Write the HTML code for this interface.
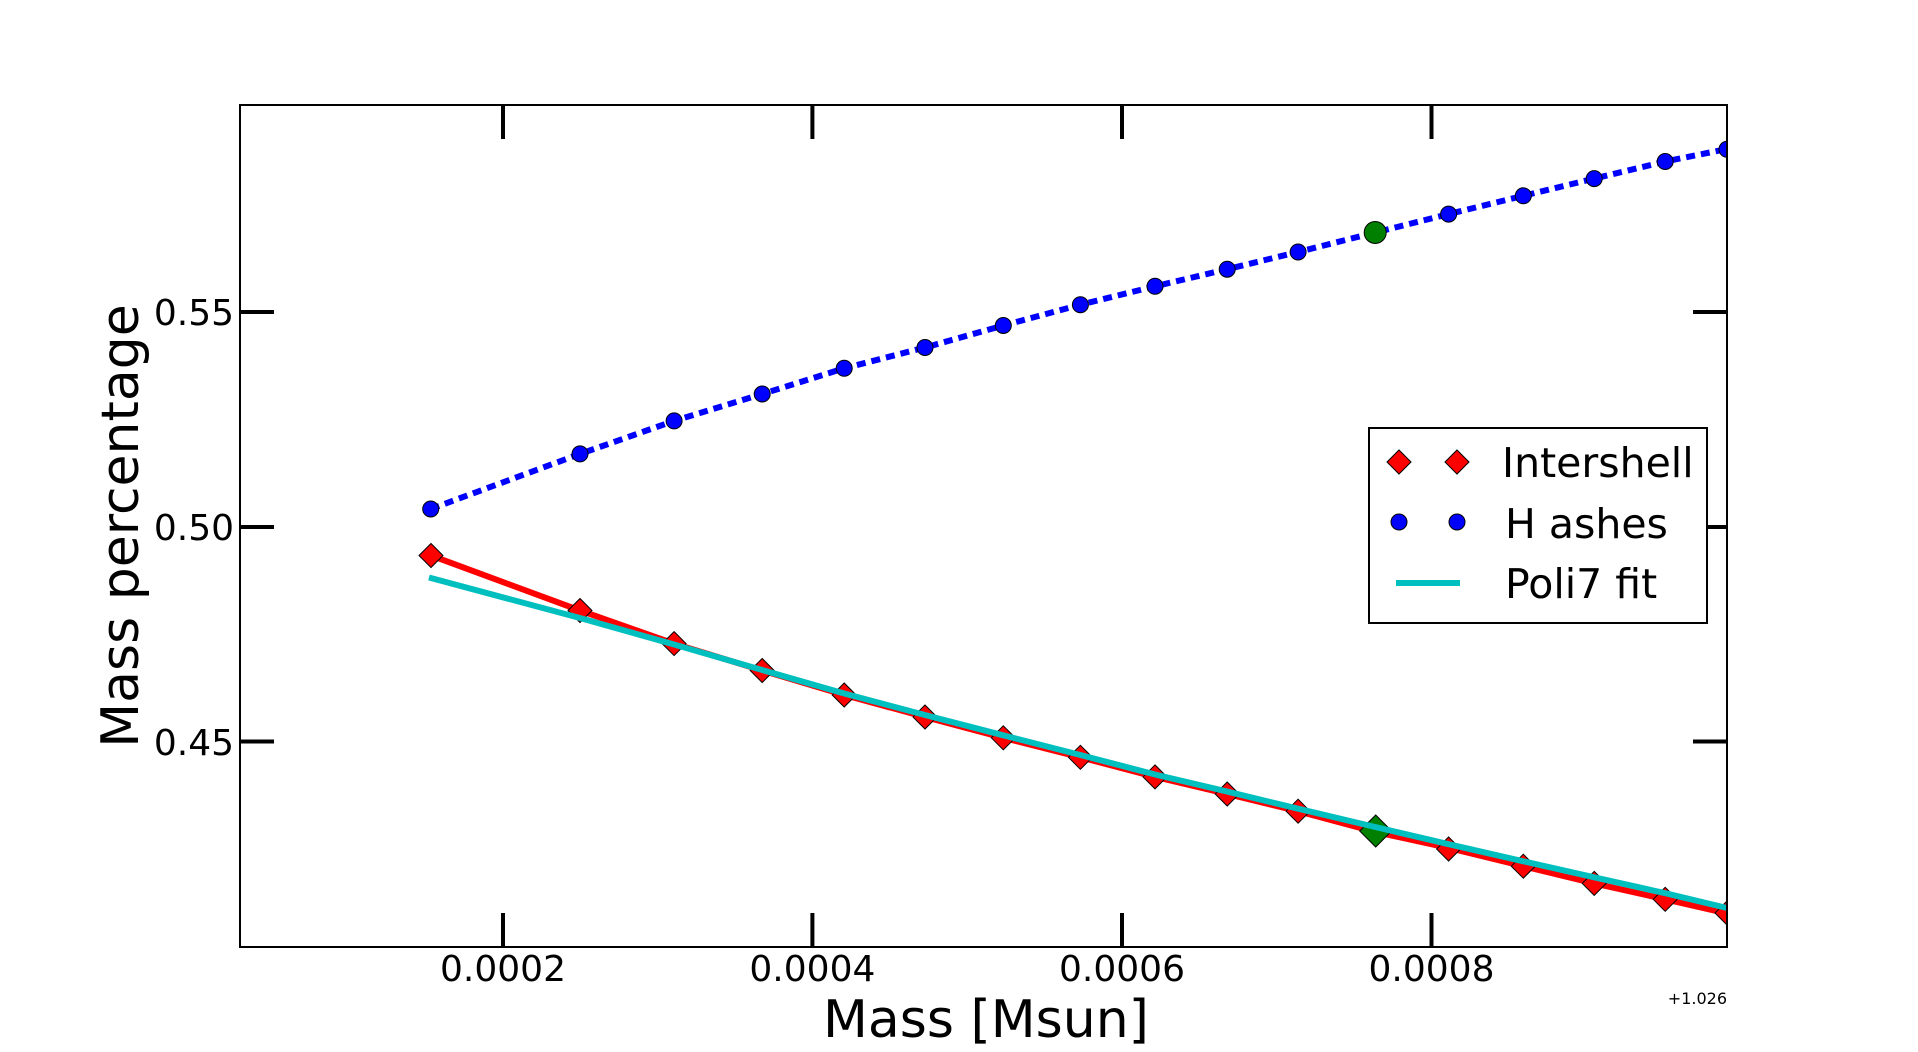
<!DOCTYPE html>
<html><head><meta charset="utf-8"><style>
html,body{margin:0;padding:0;background:#fff;}
svg{display:block;}
text{font-family:"DejaVu Sans","Liberation Sans",sans-serif;fill:#000;}
</style></head><body>
<svg width="1918" height="1052" viewBox="0 0 1918 1052" xmlns="http://www.w3.org/2000/svg">
<rect width="1918" height="1052" fill="#fff"/>
<g stroke="#000" stroke-width="4">
<line x1="503" y1="105" x2="503" y2="139"/><line x1="812.4" y1="105" x2="812.4" y2="139"/><line x1="1122" y1="105" x2="1122" y2="139"/><line x1="1431.5" y1="105" x2="1431.5" y2="139"/>
<line x1="503" y1="947" x2="503" y2="913"/><line x1="812.4" y1="947" x2="812.4" y2="913"/><line x1="1122" y1="947" x2="1122" y2="913"/><line x1="1431.5" y1="947" x2="1431.5" y2="913"/>
<line x1="240" y1="312" x2="274" y2="312"/><line x1="240" y1="527" x2="274" y2="527"/><line x1="240" y1="741.5" x2="274" y2="741.5"/>
<line x1="1727" y1="312" x2="1693" y2="312"/><line x1="1727" y1="527" x2="1693" y2="527"/><line x1="1727" y1="741.5" x2="1693" y2="741.5"/>
</g>
<polyline fill="none" stroke="#f00" stroke-width="6" points="431,555.5 580,610.5 674.1,643.6 762.2,670.5 844.2,695 925,717 1003.3,737.8 1080.4,757.3 1155,776.9 1227.2,794 1298.1,811.2 1375.2,832 1448.6,847.9 1523.3,866.2 1594.2,883.4 1665.2,899.3 1727,913.5"/>
<g fill="#f00" stroke="#000" stroke-width="1">
<path d="M431,543.5l12,12l-12,12l-12,-12z"/><path d="M580,598.5l12,12l-12,12l-12,-12z"/><path d="M674.1,631.6l12,12l-12,12l-12,-12z"/><path d="M762.2,658.5l12,12l-12,12l-12,-12z"/><path d="M844.2,683l12,12l-12,12l-12,-12z"/><path d="M925,705l12,12l-12,12l-12,-12z"/><path d="M1003.3,725.8l12,12l-12,12l-12,-12z"/><path d="M1080.4,745.3l12,12l-12,12l-12,-12z"/><path d="M1155,764.9l12,12l-12,12l-12,-12z"/><path d="M1227.2,782l12,12l-12,12l-12,-12z"/><path d="M1298.1,799.2l12,12l-12,12l-12,-12z"/><path d="M1448.6,837l12,12l-12,12l-12,-12z"/><path d="M1523.3,854.2l12,12l-12,12l-12,-12z"/><path d="M1594.2,871.4l12,12l-12,12l-12,-12z"/><path d="M1665.2,887.3l12,12l-12,12l-12,-12z"/><path d="M1727,901l12,12l-12,12l-12,-12z"/>
<path d="M1375.7,815l16,16l-16,16l-16,-16z" fill="#007f00"/>
</g>
<polyline fill="none" stroke="#00f" stroke-width="6" stroke-dasharray="9,6" points="430.7,509 580,453.9 674.1,420.9 762.2,394 844.2,368.3 925,347.5 1003.3,325.5 1080.4,304.7 1155,286.3 1227.2,269.2 1298.1,252 1375.2,232.5 1448.6,214.1 1523.3,195.8 1594.2,178.6 1665.2,161.5 1727,149"/>
<g fill="#00f" stroke="#000" stroke-width="1">
<circle cx="430.7" cy="509" r="8"/><circle cx="580" cy="453.9" r="8"/><circle cx="674.1" cy="420.9" r="8"/><circle cx="762.2" cy="394" r="8"/><circle cx="844.2" cy="368.3" r="8"/><circle cx="925" cy="347.5" r="8"/><circle cx="1003.3" cy="325.5" r="8"/><circle cx="1080.4" cy="304.7" r="8"/><circle cx="1155" cy="286.3" r="8"/><circle cx="1227.2" cy="269.2" r="8"/><circle cx="1298.1" cy="252" r="8"/><circle cx="1448.6" cy="214.1" r="8"/><circle cx="1523.3" cy="195.8" r="8"/><circle cx="1594.2" cy="178.6" r="8"/><circle cx="1665.2" cy="161.5" r="8"/><circle cx="1727" cy="149.3" r="8"/>
<circle cx="1375.2" cy="232.5" r="11" fill="#007f00"/>
</g>
<polyline fill="none" stroke="#00bfbf" stroke-width="6" points="429,577.5 580,618 674.1,644.5 762.2,670 844.2,693.5 925,715 1003.3,735.3 1080.4,755 1155,774.5 1227.2,791.6 1298.1,808.7 1375.2,827 1448.6,844.2 1523.3,861.3 1594.2,877.3 1665.2,893.2 1727,908"/>
<rect x="1728" y="0" width="190" height="1052" fill="#fff"/>
<rect x="0" y="948" width="1918" height="104" fill="#fff"/>
<rect x="240" y="105" width="1487" height="842" fill="none" stroke="#000" stroke-width="2"/>
<rect x="1369" y="428" width="338" height="195" fill="#fff" stroke="#000" stroke-width="2"/>
<g stroke="#000" stroke-width="1">
<path d="M1399,450l12,12l-12,12l-12,-12z" fill="#f00"/><path d="M1457,450l12,12l-12,12l-12,-12z" fill="#f00"/>
<circle cx="1399" cy="522" r="8" fill="#00f"/><circle cx="1457" cy="522" r="8" fill="#00f"/>
</g>
<line x1="1396" y1="583" x2="1460" y2="583" stroke="#00bfbf" stroke-width="6"/>
<text x="1502" y="477" font-size="41">Intershell</text>
<text x="1505" y="538" font-size="41">H ashes</text>
<text x="1505" y="598" font-size="41">Poli7 fit</text>
<g font-size="36" text-anchor="end">
<text x="234" y="325">0.55</text><text x="234" y="540">0.50</text><text x="234" y="755">0.45</text>
</g>
<g font-size="36" text-anchor="middle">
<text x="503" y="981">0.0002</text><text x="812.4" y="981">0.0004</text><text x="1122" y="981">0.0006</text><text x="1431.5" y="981">0.0008</text>
</g>
<text x="1727" y="1004" font-size="16" text-anchor="end">+1.026</text>
<text x="986" y="1037" font-size="52" text-anchor="middle">Mass [Msun]</text>
<text transform="translate(138,526) rotate(-90)" font-size="52" text-anchor="middle">Mass percentage</text>
</svg>
</body></html>
